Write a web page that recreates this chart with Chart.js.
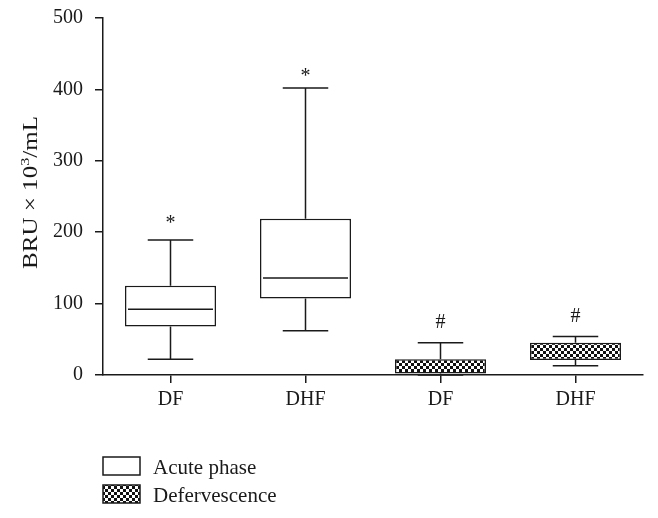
<!DOCTYPE html>
<html>
<head>
<meta charset="utf-8">
<script src="https://cdn.jsdelivr.net/npm/chart.js@4/dist/chart.umd.min.js"></script>
<style>
  body { margin: 0; background: #fff; }
  canvas { display: block; }
</style>
</head>
<body>
<canvas id="boxChart" width="658" height="518"></canvas>
<script>
const categories = ['DF', 'DHF', 'DF', 'DHF'];
const yTicks = [0, 100, 200, 300, 400, 500];

// acute phase: DF, DHF
const acuteMin = [22, 62];
const acuteQ1 = [68, 107];
const acuteMedian = [92, 136];
const acuteQ3 = [125, 219];
const acuteMax = [189, 402];
const acuteMark = ['*', '*'];
const acuteMarkAt = [218, 423];

// defervescence: DF, DHF
const deferMin = [0, 13];
const deferQ1 = [2, 21];
const deferMedian = [10, 32];
const deferQ3 = [22, 45];
const deferMax = [45, 54];
const deferMark = ['#', '#'];
const deferMarkAt = [73, 81];

const FONT = '"Liberation Serif", "DejaVu Serif", serif';
const INK = '#1a1a1a';

function checker() {
  const c = document.createElement('canvas');
  c.width = 6; c.height = 6;
  const g = c.getContext('2d');
  g.fillStyle = '#fff';
  g.fillRect(0, 0, 6, 6);
  g.fillStyle = '#111';
  g.fillRect(0, 0, 3, 3);
  g.fillRect(3, 3, 3, 3);
  return g.createPattern(c, 'repeat');
}
const checkerFill = checker();

const boxes = [
  { min: acuteMin, med: acuteMedian, max: acuteMax, mark: acuteMark, markAt: acuteMarkAt, showMedian: true },
  { min: deferMin, med: deferMedian, max: deferMax, mark: deferMark, markAt: deferMarkAt, showMedian: false }
];

const boxPlotPlugin = {
  id: 'boxPlot',
  afterDatasetsDraw(chart) {
    const ctx = chart.ctx;
    const y = chart.scales.y;
    ctx.save();
    ctx.strokeStyle = INK;
    ctx.lineWidth = 1.5;
    chart.data.datasets.forEach((ds, di) => {
      const meta = chart.getDatasetMeta(di);
      const b = boxes[di];
      meta.data.forEach((bar, i) => {
        const raw = ds.data[i];
        if (!raw) return;
        const k = ds.idx[i];
        const half = bar.width / 2;
        const yTop = y.getPixelForValue(raw[1]);
        const yBot = y.getPixelForValue(raw[0]);
        const yMax = y.getPixelForValue(b.max[k]);
        const yMin = y.getPixelForValue(b.min[k]);
        ctx.beginPath();
        ctx.moveTo(bar.x, yTop); ctx.lineTo(bar.x, yMax);
        ctx.moveTo(bar.x - half / 2, yMax); ctx.lineTo(bar.x + half / 2, yMax);
        if (b.min[k] < raw[0]) {
          ctx.moveTo(bar.x, yBot); ctx.lineTo(bar.x, yMin);
          ctx.moveTo(bar.x - half / 2, yMin); ctx.lineTo(bar.x + half / 2, yMin);
        }
        if (b.showMedian) {
          const yMed = y.getPixelForValue(b.med[k]);
          ctx.moveTo(bar.x - half + 3, yMed); ctx.lineTo(bar.x + half - 3, yMed);
        }
        ctx.stroke();
        ctx.fillStyle = INK;
        ctx.font = '20px ' + FONT;
        ctx.textAlign = 'center';
        ctx.textBaseline = 'middle';
        const off = b.mark[k] === '*' ? 4 : 0;
        ctx.fillText(b.mark[k], bar.x, y.getPixelForValue(b.markAt[k]) + off);
      });
    });
    ctx.restore();
  },
  afterDraw(chart) {
    const ctx = chart.ctx;
    ctx.save();
    ctx.lineWidth = 1.5;
    ctx.strokeStyle = INK;
    ctx.font = '21px ' + FONT;
    ctx.textBaseline = 'alphabetic';
    ctx.textAlign = 'left';
    chart.data.datasets.forEach((ds, di) => {
      const top = 457 + di * 28;
      ctx.fillStyle = ds.backgroundColor;
      ctx.fillRect(103, top, 37, 18);
      ctx.strokeRect(103, top, 37, 18);
      ctx.fillStyle = INK;
      ctx.fillText(ds.label, 153, top + 17);
    });

    // y axis title, stretched along its length like the original figure
    const parts = ['BRU × 10', '3', '/mL'];
    const main = '20px ' + FONT, sup = '13px ' + FONT;
    ctx.font = main;
    const w0 = ctx.measureText(parts[0]).width;
    const w2 = ctx.measureText(parts[2]).width;
    ctx.font = sup;
    const w1 = ctx.measureText(parts[1]).width;
    const total = w0 + w1 + w2;
    const stretch = 153 / total;
    const a = chart.chartArea;
    ctx.translate(37, (a.top + a.bottom) / 2 - 4);
    ctx.rotate(-Math.PI / 2);
    ctx.scale(stretch, 1);
    ctx.fillStyle = INK;
    let x = -total / 2;
    ctx.font = main; ctx.fillText(parts[0], x, 0); x += w0;
    ctx.font = sup; ctx.fillText(parts[1], x, -8); x += w1;
    ctx.font = main; ctx.fillText(parts[2], x, 0);
    ctx.restore();
  }
};

new Chart(document.getElementById('boxChart'), {
  type: 'bar',
  data: {
    labels: categories,
    datasets: [
      {
        label: 'Acute phase',
        idx: [0, 1, null, null],
        data: [[acuteQ1[0], acuteQ3[0]], [acuteQ1[1], acuteQ3[1]], null, null],
        backgroundColor: '#ffffff',
        borderColor: INK,
        borderWidth: 1.5,
        borderSkipped: false
      },
      {
        label: 'Defervescence',
        idx: [null, null, 0, 1],
        data: [null, null, [deferQ1[0], deferQ3[0]], [deferQ1[1], deferQ3[1]]],
        backgroundColor: checkerFill,
        borderColor: INK,
        borderWidth: 1.5,
        borderSkipped: false
      }
    ]
  },
  options: {
    responsive: false,
    animation: false,
    grouped: false,
    categoryPercentage: 1,
    barPercentage: 0.674,
    layout: { autoPadding: false, padding: { top: 18, right: 15, left: 0, bottom: 0 } },
    plugins: { legend: { display: false }, tooltip: { enabled: false } },
    scales: {
      x: {
        afterFit: s => { s.height = 143; s.paddingLeft = 0; s.paddingRight = 0; },
        grid: { offset: false, drawOnChartArea: false, drawTicks: true, tickLength: 8, color: INK, lineWidth: 1.5 },
        border: { color: INK, width: 1.5 },
        ticks: { color: INK, padding: 5, font: { family: FONT, size: 20 } }
      },
      y: {
        min: 0,
        max: 500,
        afterFit: s => { s.width = 103; s.paddingTop = 0; s.paddingBottom = 0; },
        afterBuildTicks: s => { s.ticks = yTicks.map(v => ({ value: v })); },
        grid: { drawOnChartArea: false, drawTicks: true, tickLength: 8, color: INK, lineWidth: 1.5 },
        border: { color: INK, width: 1.5 },
        ticks: { color: INK, padding: 12, font: { family: FONT, size: 20 } }
      }
    }
  },
  plugins: [boxPlotPlugin]
});
</script>
</body>
</html>
